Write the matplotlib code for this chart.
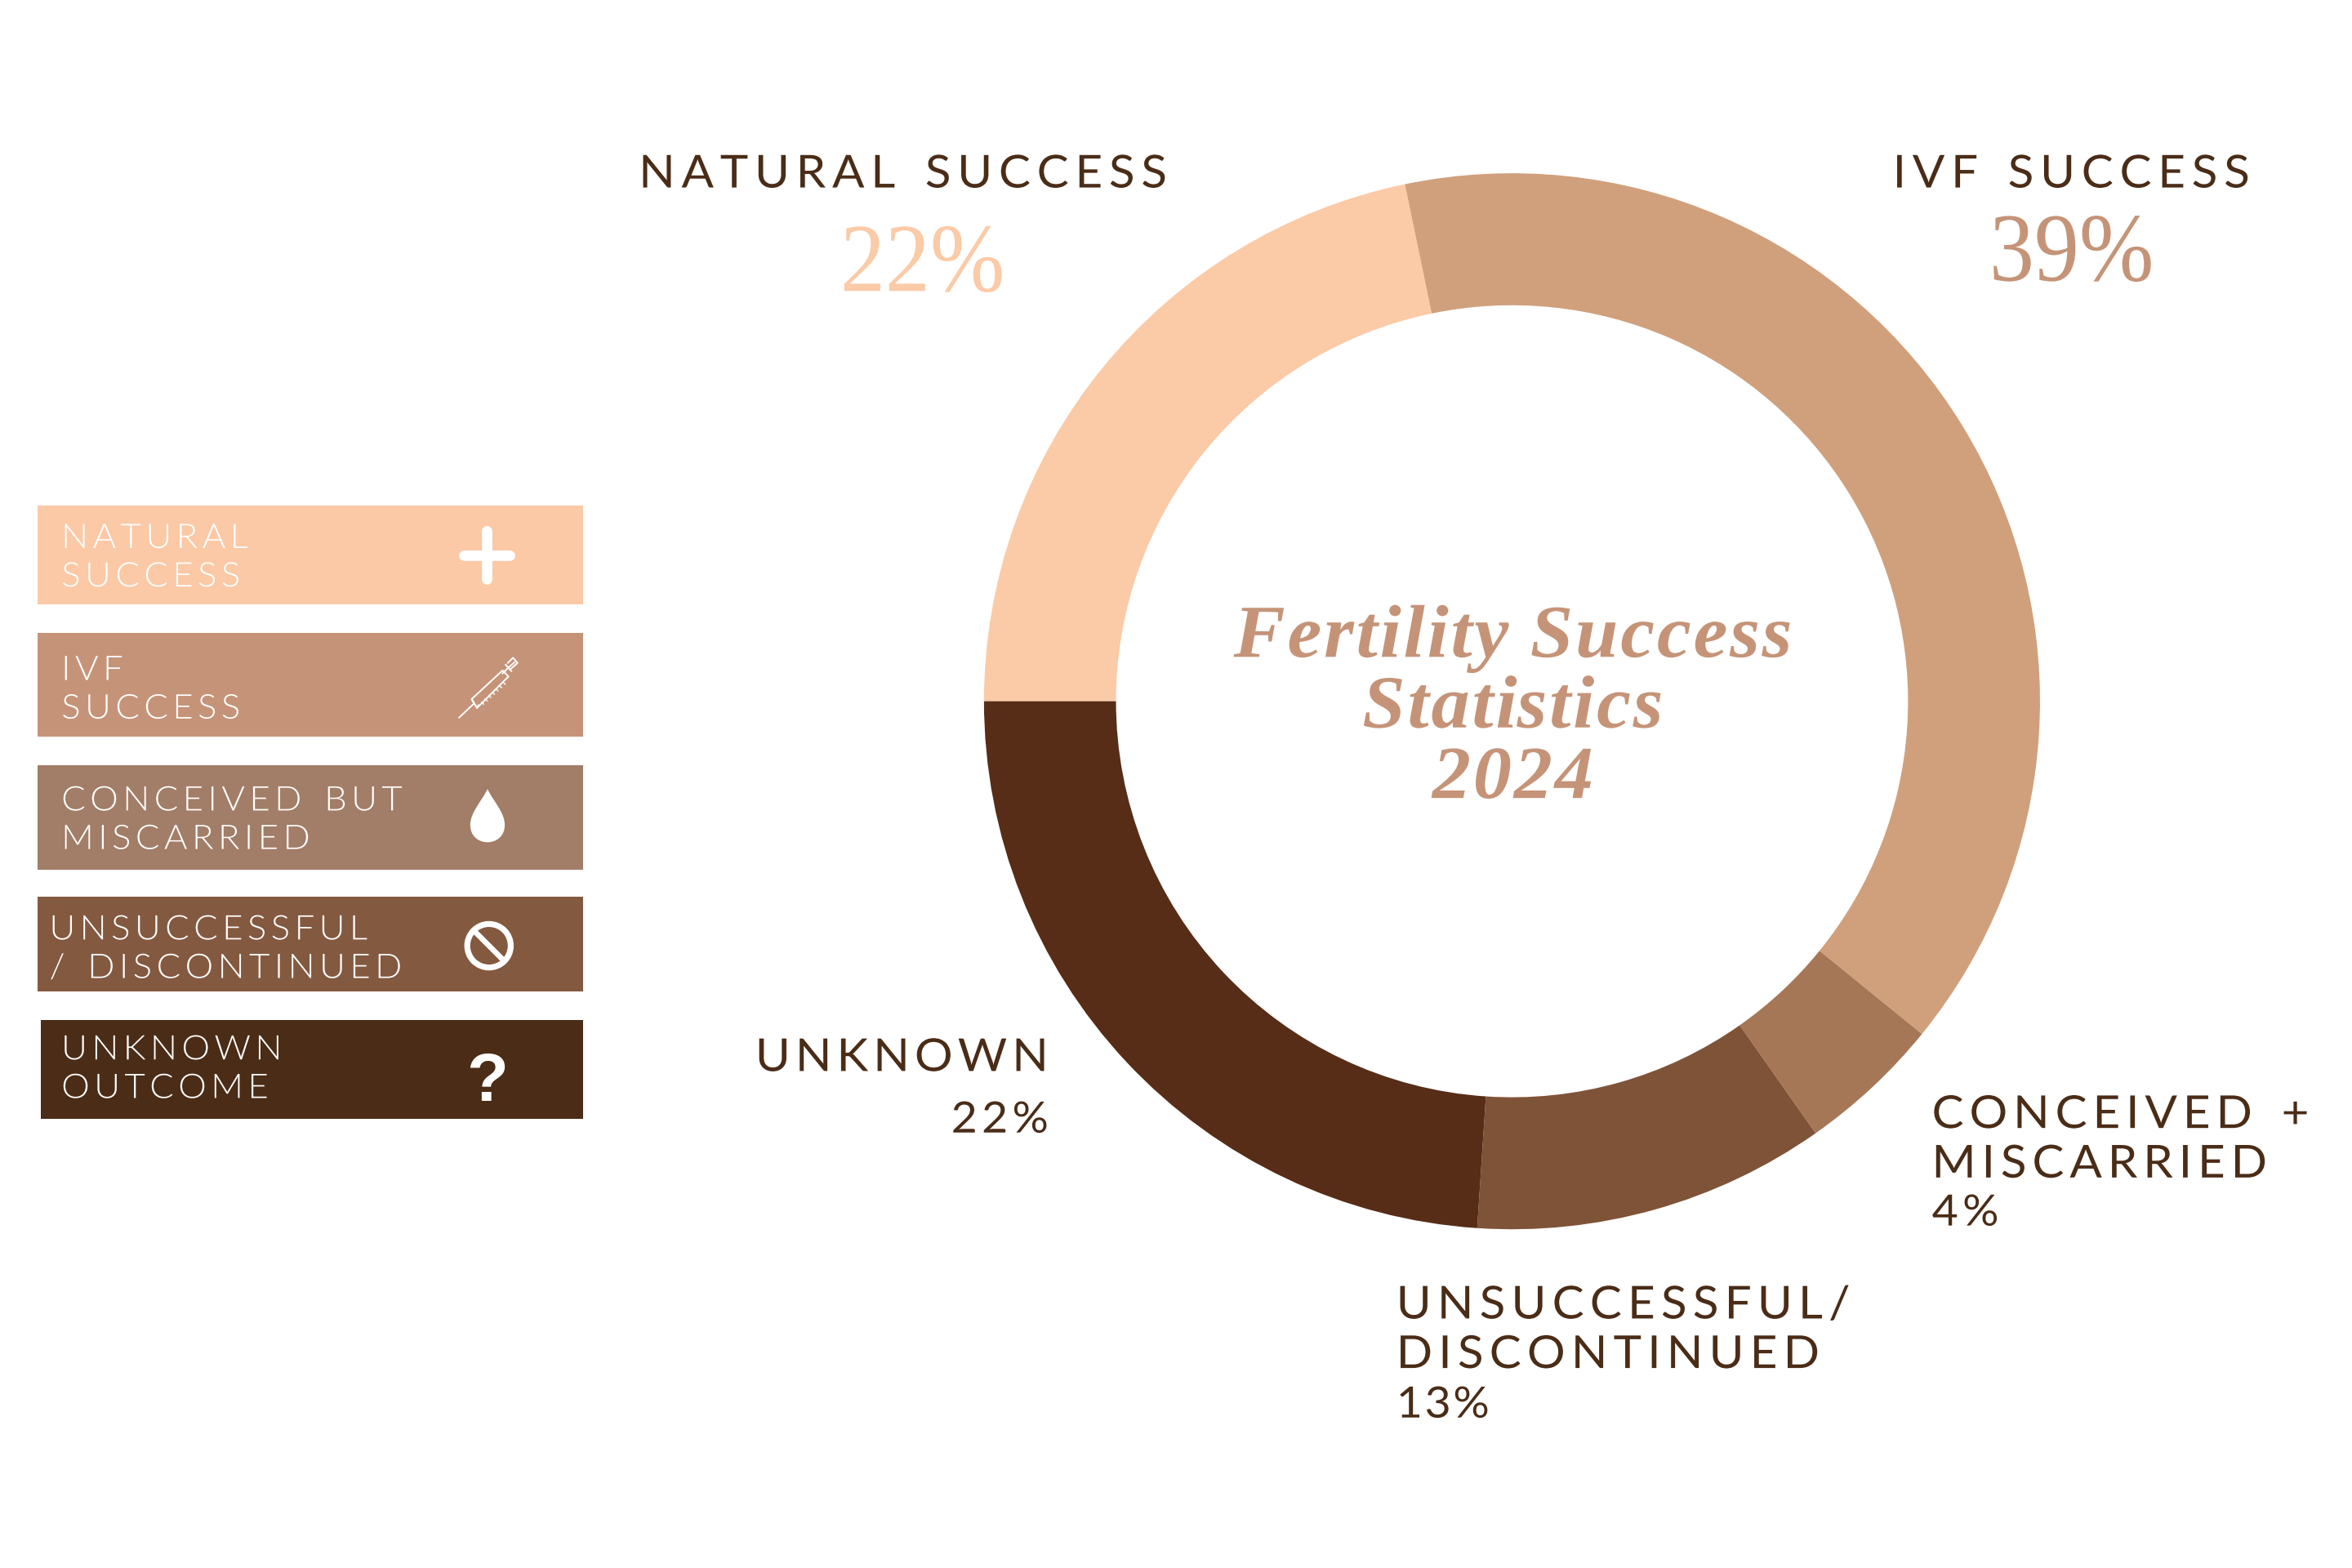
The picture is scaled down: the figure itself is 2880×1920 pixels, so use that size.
import numpy as np
import matplotlib
matplotlib.use("Agg")
import matplotlib.pyplot as plt
from matplotlib.path import Path
from matplotlib.patches import Rectangle, PathPatch, Circle
from matplotlib.patheffects import AbstractPathEffect

# ---------- data ----------
categories = ["Natural success", "IVF success", "Conceived + miscarried",
              "Unsuccessful / discontinued", "Unknown"]
# slice shares as drawn (measured from the ring's arcs)
drawn_shares = [21.75, 39.1, 4.4, 10.8, 23.95]
printed_pct = ["22%", "39%", "4%", "13%", "22%"]
ring_colors = ["#FBCAA7", "#D0A07C", "#A67756", "#7F5338", "#572D18"]
legend_labels = ["NATURAL\nSUCCESS", "IVF\nSUCCESS", "CONCEIVED BUT\nMISCARRIED",
                 "UNSUCCESSFUL\n/ DISCONTINUED", "UNKNOWN\nOUTCOME"]
legend_colors = ["#FBC9A6", "#C59478", "#A27D67", "#835940", "#4A2C17"]
title_text = "Fertility Success\nStatistics\n2024"
DARK = "#4A2C17"
TITLE_COL = "#C59478"
SANS = ["Lato", "DejaVu Sans"]
SERIF = ["Liberation Serif", "DejaVu Serif"]

S = 2880 / 1568  # layout below is given in 1568-wide units


class Track(AbstractPathEffect):
    """Letter spacing (em fraction) and horizontal stretch for a text line."""
    def __init__(self, track=0.0, stretch=1.0, anchor=0.0, word=0.0):
        super().__init__()
        self.track, self.stretch, self.anchor, self.word = track, stretch, anchor, word

    def draw_path(self, renderer, gc, tpath, affine, rgbFace=None):
        v = np.array(tpath.vertices, dtype=float)
        c = tpath.codes
        if c is None or len(v) == 0:
            renderer.draw_path(gc, tpath, affine, rgbFace)
            return
        starts = list(np.where(c == Path.MOVETO)[0]) + [len(v)]
        subs = []
        for a, b in zip(starts[:-1], starts[1:]):
            idx = np.arange(a, b)
            idx2 = idx[c[idx] != Path.CLOSEPOLY]
            h = v[idx2, 1].max() - v[idx2, 1].min()
            subs.append((v[idx2, 0].min(), v[idx2, 0].max(), idx, h))
        subs.sort(key=lambda s: (s[0], -s[1]))
        x0 = subs[0][0]
        old_w = max(s[1] for s in subs) - x0
        shift = 0.0
        gmin, gmax, small = subs[0][0], subs[0][1], subs[0][3] < 45
        nv = v.copy()
        for lo, hi, idx, h in subs:
            ov = min(hi, gmax) - max(lo, gmin)
            is_small = h < 45
            merge = ov >= 0.5 * max(hi - lo, 1e-6) or ((small or is_small) and ov > 0)
            if not merge:
                shift += self.track * 100
                if lo - gmax > 23:
                    shift += self.word * 100
                gmin, gmax, small = lo, hi, is_small
            else:
                gmax = max(gmax, hi)
                small = small or is_small
            nv[idx, 0] = (v[idx, 0] - x0) * self.stretch + x0 + shift
        new_w = old_w * self.stretch + shift
        nv[:, 0] -= self.anchor * (new_w - old_w)
        renderer.draw_path(gc, Path(nv, c), affine, rgbFace)


fig = plt.figure(figsize=(14.4, 9.6), dpi=200, facecolor="white")

# ---------- ring ----------
cx, cy, R = 1008 * S, 467.5 * S, 352 * S
pie_ax = fig.add_axes([(cx - R) / 2880, 1 - (cy + R) / 1920, 2 * R / 2880, 2 * R / 1920])
pie_ax.pie(drawn_shares, colors=ring_colors, startangle=180, counterclock=False,
           radius=1, wedgeprops=dict(width=0.25, linewidth=0))
pie_ax.set_xlim(-1, 1)
pie_ax.set_ylim(-1, 1)
pie_ax.set_axis_off()

# ---------- overlay in pixel layout ----------
ax = fig.add_axes([0, 0, 1, 1], facecolor="none")
ax.set_xlim(0, 2880)
ax.set_ylim(1920, 0)
ax.set_axis_off()


def label(x, y, s, size=20, color=DARK, ha="left", track=0.14, stretch=1.05,
          family=SANS, weight=400, style="normal", ls=1.235, word=0.25):
    anchor = {"left": 0, "center": .5, "right": 1}[ha]
    t = ax.text(x * S, y * S, s, fontsize=size, color=color, ha=ha, va="baseline",
                family=family, fontweight=weight, fontstyle=style, linespacing=ls,
                multialignment=ha)
    t.set_path_effects([Track(track, stretch, anchor, word)])
    return t


# ring call-outs
label(426, 125, categories[0].upper())
label(1262, 125, categories[1].upper())
label(699, 714, categories[4].upper(), ha="right", track=0.11)
label(699, 755, printed_pct[4], size=19, ha="right", track=0.1)
label(1288, 785, "CONCEIVED +\nMISCARRIED", track=0.125)
label(1288, 817, printed_pct[2], size=19, track=0.1)
label(931, 912, "UNSUCCESSFUL/\nDISCONTINUED", track=0.13)
label(931, 945, printed_pct[3], size=19, track=0.05)

# big serif percentages
label(560, 194, printed_pct[0], size=43, color=ring_colors[0], family=SERIF,
      weight="normal", track=0, stretch=0.92, word=0)
label(1326, 187, printed_pct[1], size=43, color=TITLE_COL, family=SERIF,
      weight="normal", track=0, stretch=0.92, word=0)

# centre title
label(1008.5, 532, title_text, size=33, color=TITLE_COL, ha="center", family=SERIF,
      weight="bold", style="italic", track=0.03, stretch=1.03, ls=1.07, word=0)

# legend bars
bars = [(25, 337, 403), (25, 422, 491), (25, 510, 580), (25, 598, 661), (27, 680, 746)]
txt_x = [41, 41, 41, 33, 41]
txt_base = [391, 479, 566, 652, 732]
for (x0, y0, y1), col, lab, tx, tb in zip(bars, legend_colors, legend_labels, txt_x, txt_base):
    ax.add_patch(Rectangle((x0 * S, y0 * S), (389 - x0) * S, (y1 - y0) * S, fc=col, ec="none"))
    label(tx, tb, lab, size=15, color="white", track=0.13, stretch=1.05, ls=1.34, weight=300)

# legend icons
W = "white"
# plus
ax.plot([309 * S, 340 * S], [370 * S, 370 * S], color=W, lw=4.6, solid_capstyle="round")
ax.plot([324.5 * S, 324.5 * S], [354 * S, 386 * S], color=W, lw=4.6, solid_capstyle="round")
# syringe
def syr(xs, ys, lw=0.7):
    ax.plot(np.array(xs) * S, np.array(ys) * S, color=W, lw=lw, solid_capstyle="round")
syr([306, 316], [478.5, 469])
syr([316, 314.5, 318, 319], [469, 466, 472, 470])
syr([314.5, 335, 339, 318], [466, 447, 451, 472])
syr([335, 339.5], [449, 444.5])
syr([341, 337], [447.5, 443])
syr([339, 343], [445, 441.5])
syr([340.5, 345, 342, 338.5], [446, 442, 438.5, 442])
for k in range(7):
    a = 321 + k * 2.4
    b = 468 - k * 2.2
    syr([a, a + 1.5], [b, b + 1.5], 0.5)
# drop
xc, top, bot, hw = 325 * S, 526 * S, 561.5 * S, 11.5 * S
ym = 550 * S
bc = ym + (bot - ym) * 4 / 3
drop = Path([(xc, top), (xc - hw * 0.35, top + 0.35 * (ym - top)), (xc - hw, ym - 0.35 * (ym - top)), (xc - hw, ym),
             (xc - hw, bc), (xc + hw, bc), (xc + hw, ym),
             (xc + hw, ym - 0.35 * (ym - top)), (xc + hw * 0.35, top + 0.35 * (ym - top)), (xc, top), (xc, top)],
            [Path.MOVETO, Path.CURVE4, Path.CURVE4, Path.CURVE4,
             Path.CURVE4, Path.CURVE4, Path.CURVE4,
             Path.CURVE4, Path.CURVE4, Path.CURVE4, Path.CLOSEPOLY])
ax.add_patch(PathPatch(drop, fc=W, ec="none"))
# prohibition sign
ax.add_patch(Circle((326 * S, 630.5 * S), 14.5 * S, fc="none", ec=W, lw=2.6))
ax.plot([315.5 * S, 336.5 * S], [620 * S, 641 * S], color=W, lw=2.4, solid_capstyle="butt")
# question mark
ax.text(325 * S, 734 * S, "?", color=W, fontsize=30, fontweight="bold", family="Liberation Sans",
        ha="center", va="baseline")

fig.savefig("out.png", dpi=200, facecolor="white")
